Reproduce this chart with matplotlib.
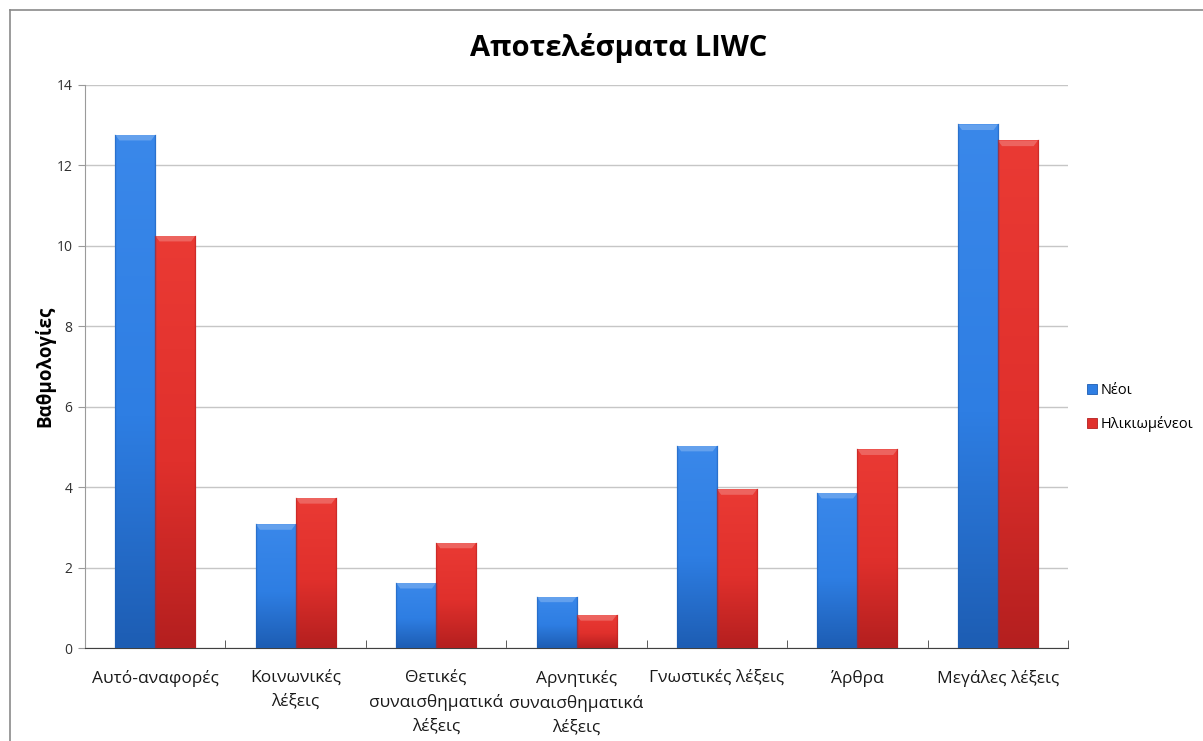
import numpy as np
import matplotlib
matplotlib.use("Agg")
import matplotlib.pyplot as plt
from matplotlib.patches import Patch, Polygon
from matplotlib.colors import LinearSegmentedColormap
from matplotlib.lines import Line2D

plt.rcParams['font.family'] = ['Open Sans', 'DejaVu Sans']

categories = [
    "Αυτό-αναφορές",
    "Κοινωνικές\nλέξεις",
    "Θετικές\nσυναισθηματικά\nλέξεις",
    "Αρνητικές\nσυναισθηματικά\nλέξεις",
    "Γνωστικές λέξεις",
    "Άρθρα",
    "Μεγάλες λέξεις",
]
series_names = ["Νέοι", "Ηλικιωμένεοι"]
neoi = [12.76, 3.08, 1.62, 1.28, 5.03, 3.86, 13.02]
ilikiomenoi = [10.25, 3.73, 2.62, 0.82, 3.95, 4.94, 12.62]
y_ticks = [0, 2, 4, 6, 8, 10, 12, 14]

title = "Αποτελέσματα LIWC"
y_label = "Βαθμολογίες"

# colour ramps: (top highlight, body, bottom shade)
blue = ["#3a88ea", "#2e7ee3", "#1d5db3"]
red = ["#ea3a34", "#e0302c", "#b41f1f"]

fig = plt.figure(figsize=(12.03, 7.41), dpi=100)
ax = fig.add_axes([0.0707, 0.1255, 0.8171, 0.7598])

x = np.arange(len(categories))
w = 0.285
ax.set_xlim(-0.5, len(categories) - 0.5)
ax.set_ylim(0, 14)


def shaded_bars(xpos, vals, cols, label):
    bars = ax.bar(xpos, vals, width=w, color=cols[1], edgecolor="none",
                  label=label, zorder=3)
    cmap = LinearSegmentedColormap.from_list(
        "ramp", [(0.0, cols[2]), (0.45, cols[1]), (1.0, cols[0])])
    grad = np.linspace(0, 1, 256).reshape(-1, 1)
    for b in bars:
        x0, y0 = b.get_x(), b.get_y()
        bw, bh = b.get_width(), b.get_height()
        im = ax.imshow(grad, cmap=cmap, origin="lower", aspect="auto",
                       extent=[x0, x0 + bw, y0, y0 + bh], zorder=3.1,
                       interpolation="bilinear")
        im.set_clip_path(b)
        # bevel on the top face
        dy = 0.14
        dx = 0.03
        top = y0 + bh
        bev = Polygon([[x0, top], [x0 + bw, top], [x0 + bw - dx, top - dy],
                       [x0 + dx, top - dy]], closed=True,
                      facecolor="white", edgecolor="none", alpha=0.22, zorder=3.2)
        ax.add_patch(bev)
        # darker side edges
        ax.plot([x0, x0], [y0, top], color=cols[2], lw=1.0, alpha=0.5, zorder=3.3)
        ax.plot([x0 + bw, x0 + bw], [y0, top], color=cols[2], lw=1.0, alpha=0.5, zorder=3.3)
    ax.set_xlim(-0.5, len(categories) - 0.5)
    ax.set_ylim(0, 14)
    return bars


shaded_bars(x - w / 2, neoi, blue, series_names[0])
shaded_bars(x + w / 2, ilikiomenoi, red, series_names[1])

# grid and axes styling
ax.set_yticks(y_ticks)
ax.yaxis.grid(True, color="#c6c6c6", lw=1.0, zorder=0)
ax.set_axisbelow(True)
for s in ["top", "right"]:
    ax.spines[s].set_visible(False)
ax.spines["left"].set_color("#9a9a9a")
ax.spines["bottom"].set_color("#404040")
ax.tick_params(axis="y", direction="out", length=5, color="#9a9a9a",
               labelsize=10, labelcolor="#303030", pad=4)

# category labels centred, tick marks on the category boundaries
ax.set_xticks(x)
ax.set_xticklabels(categories, fontsize=12.5, color="#1a1a1a", linespacing=1.6)
ax.tick_params(axis="x", length=0, pad=16)
ax.set_xticks(np.arange(len(categories) + 1) - 0.5, minor=True)
ax.tick_params(axis="x", which="minor", direction="in", length=6, color="#404040")

ax.set_ylabel(y_label, fontsize=13.5, fontweight="bold", labelpad=1)
fig.text(0.5144, 0.935, title, fontsize=21, fontweight="bold",
         ha="center", va="center", color="#000000")

handles = [Patch(facecolor=blue[1], edgecolor=blue[2], lw=0.6),
           Patch(facecolor=red[1], edgecolor=red[2], lw=0.6)]
fig.legend(handles, series_names, loc="center left",
           bbox_to_anchor=(0.893, 0.45), frameon=False, fontsize=10.5,
           handlelength=0.65, handleheight=0.65, handletextpad=0.25,
           labelspacing=1.2)

# outer chart border (left and top edges)
fig.add_artist(Line2D([0.0083, 0.0083], [0, 0.9865], color="#8a8a8a", lw=1.2,
                      transform=fig.transFigure))
fig.add_artist(Line2D([0.0083, 1.0], [0.9865, 0.9865], color="#8a8a8a", lw=1.2,
                      transform=fig.transFigure))

fig.savefig("out.png", dpi=100, facecolor="white")
